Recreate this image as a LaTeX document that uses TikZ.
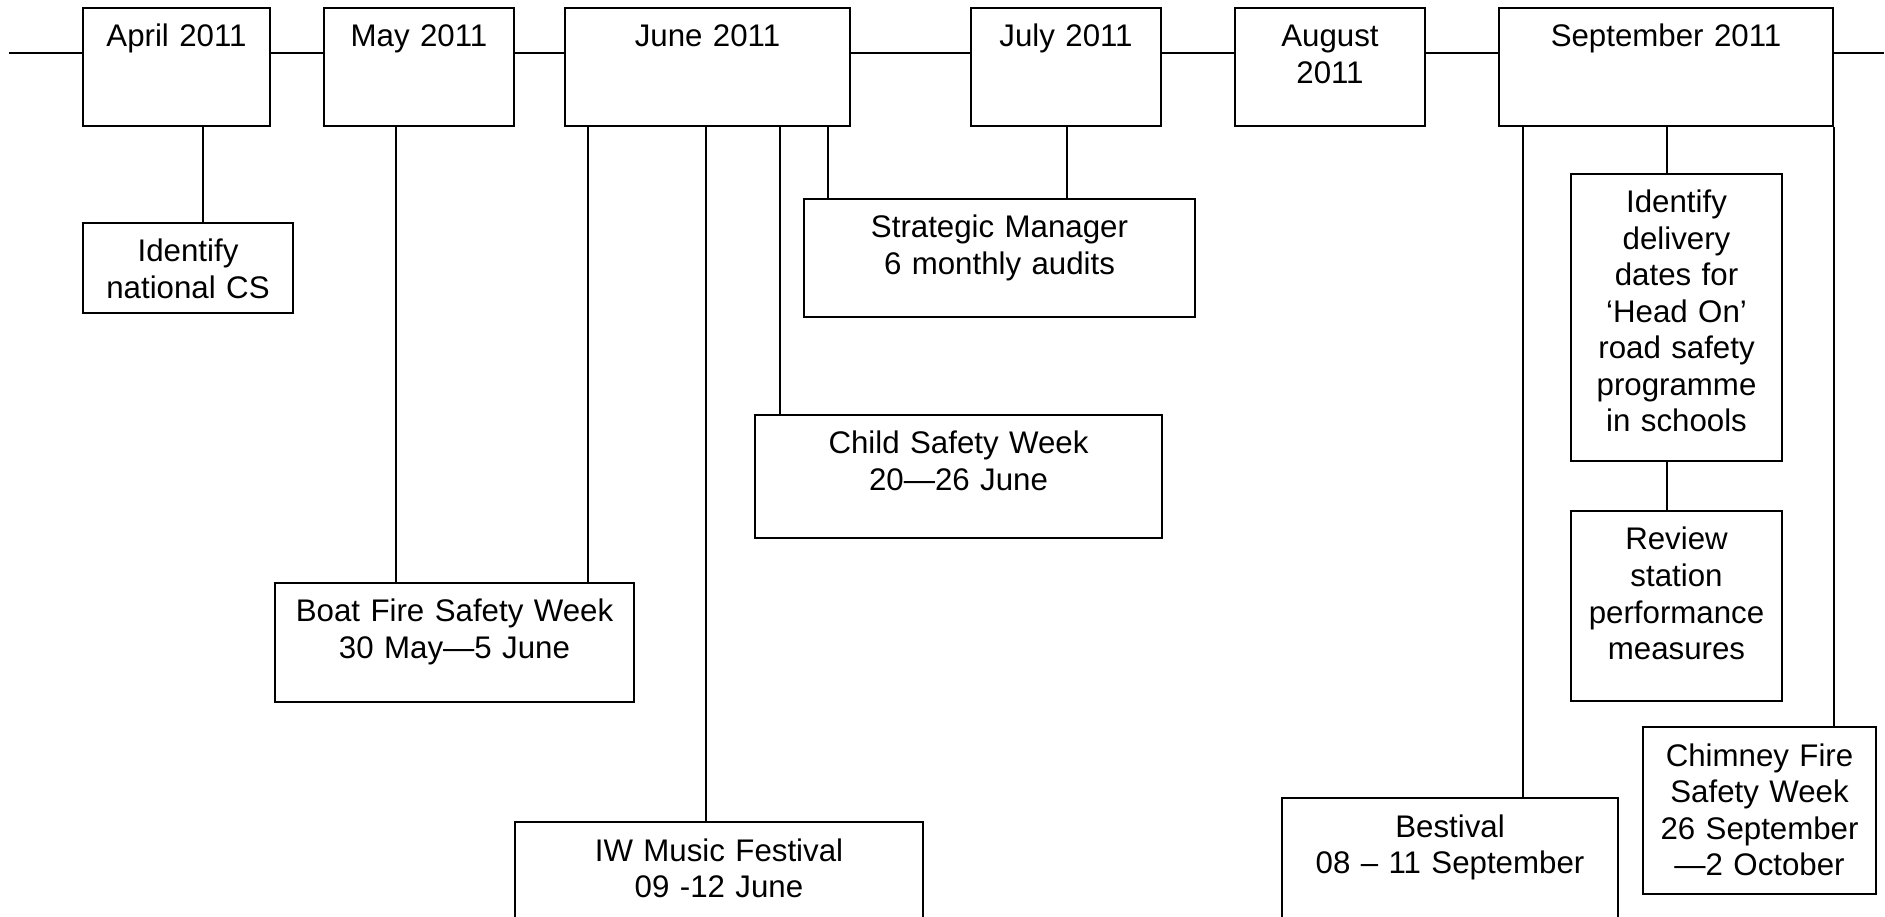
\documentclass[tikz,border=0pt]{standalone}
\usepackage{fontspec}
\setmainfont{Liberation Sans}
\begin{document}
\begin{tikzpicture}[x=0.4pt,y=-0.4pt]
        \tikzset{box/.style 2 args={draw, line width=0.8pt, text width=#1, text depth=#2,
                text height=15.6pt, inner xsep=0pt, inner ysep=0pt, align=center, anchor=north,
                font=\fontsize{12.5pt}{14.6pt}\selectfont},
            month/.style={box={#1}{31.6pt}},
            link/.style={draw, line width=0.5pt}}
        \useasboundingbox (0,0) rectangle (1885,917);
        % months
        \node[month=74.8pt] (apr) at (176.5,7) {April 2011};
        \node[month=76pt] (may) at (419,7) {May 2011};
        \node[month=114pt] (jun) at (707.5,7) {June 2011};
        \node[month=76pt] (jul) at (1066,7) {July 2011};
        \node[month=76pt] (aug) at (1330,7) {August\\2011};
        \node[month=133.6pt] (sep) at (1666,7) {September 2011};
        % events
        \node[box={84pt}{20.4pt}] (nat) at (188,222) {Identify\\national CS};
        \node[box={156.4pt}{31.6pt}] (strat) at (999.5,198) {Strategic Manager\\6 monthly audits};
        \node[box={162.8pt}{33.8pt}] (child) at (958.5,414) {Child Safety Week\\20—26 June};
        \node[box={143.6pt}{32pt}] (boat) at (454.5,582) {Boat Fire Safety Week\\30 May—5 June};
        \node[box={163.2pt}{23.2pt}] (iw) at (719,821) {IW Music Festival\\09 -12 June};
        \node[box={84.4pt}{99.2pt}] (deliv) at (1676.5,173) {Identify\\delivery\\dates for\\‘Head On’\\road safety\\programme\\in schools};
        \node[box={84.4pt}{60.4pt}] (review) at (1676.5,510) {Review\\station\\performance\\measures};
        \node[box={134.4pt}{32.8pt}] (best) at (1450,797) {Bestival\\08 – 11 September};
        \node[box={93.2pt}{51.2pt}] (chim) at (1759.5,726) {Chimney Fire\\Safety Week\\26 September\\—2 October};
        % time line
        \coordinate (tl) at (9,53);
        \coordinate (tr) at (1884,53);
        \draw[link] (tl) -- (apr.west |- tl)
            (apr.east |- tl) -- (may.west |- tl)
            (may.east |- tl) -- (jun.west |- tl)
            (jun.east |- tl) -- (jul.west |- tl)
            (jul.east |- tl) -- (aug.west |- tl)
            (aug.east |- tl) -- (sep.west |- tl)
            (sep.east |- tl) -- (tr);
        % links
        \draw[link] (apr.south -| 203,0) -- (nat.north -| 203,0);
        \draw[link] (may.south -| 396,0) -- (boat.north -| 396,0);
        \draw[link] (jun.south -| 588,0) -- (boat.north -| 588,0);
        \draw[link] (jun.south -| 706,0) -- (iw.north -| 706,0);
        \draw[link] (jun.south -| 780,0) -- (child.north -| 780,0);
        \draw[link] (jun.south -| 828,0) -- (strat.north -| 828,0);
        \draw[link] (jul.south -| 1067,0) -- (strat.north -| 1067,0);
        \draw[link] (sep.south -| 1523,0) -- (best.north -| 1523,0);
        \draw[link] (sep.south -| 1667,0) -- (deliv.north -| 1667,0);
        \draw[link] (deliv.south -| 1667,0) -- (review.north -| 1667,0);
        \draw[link] (sep.south east) -- (chim.north -| sep.south east);
\end{tikzpicture}
\end{document}
